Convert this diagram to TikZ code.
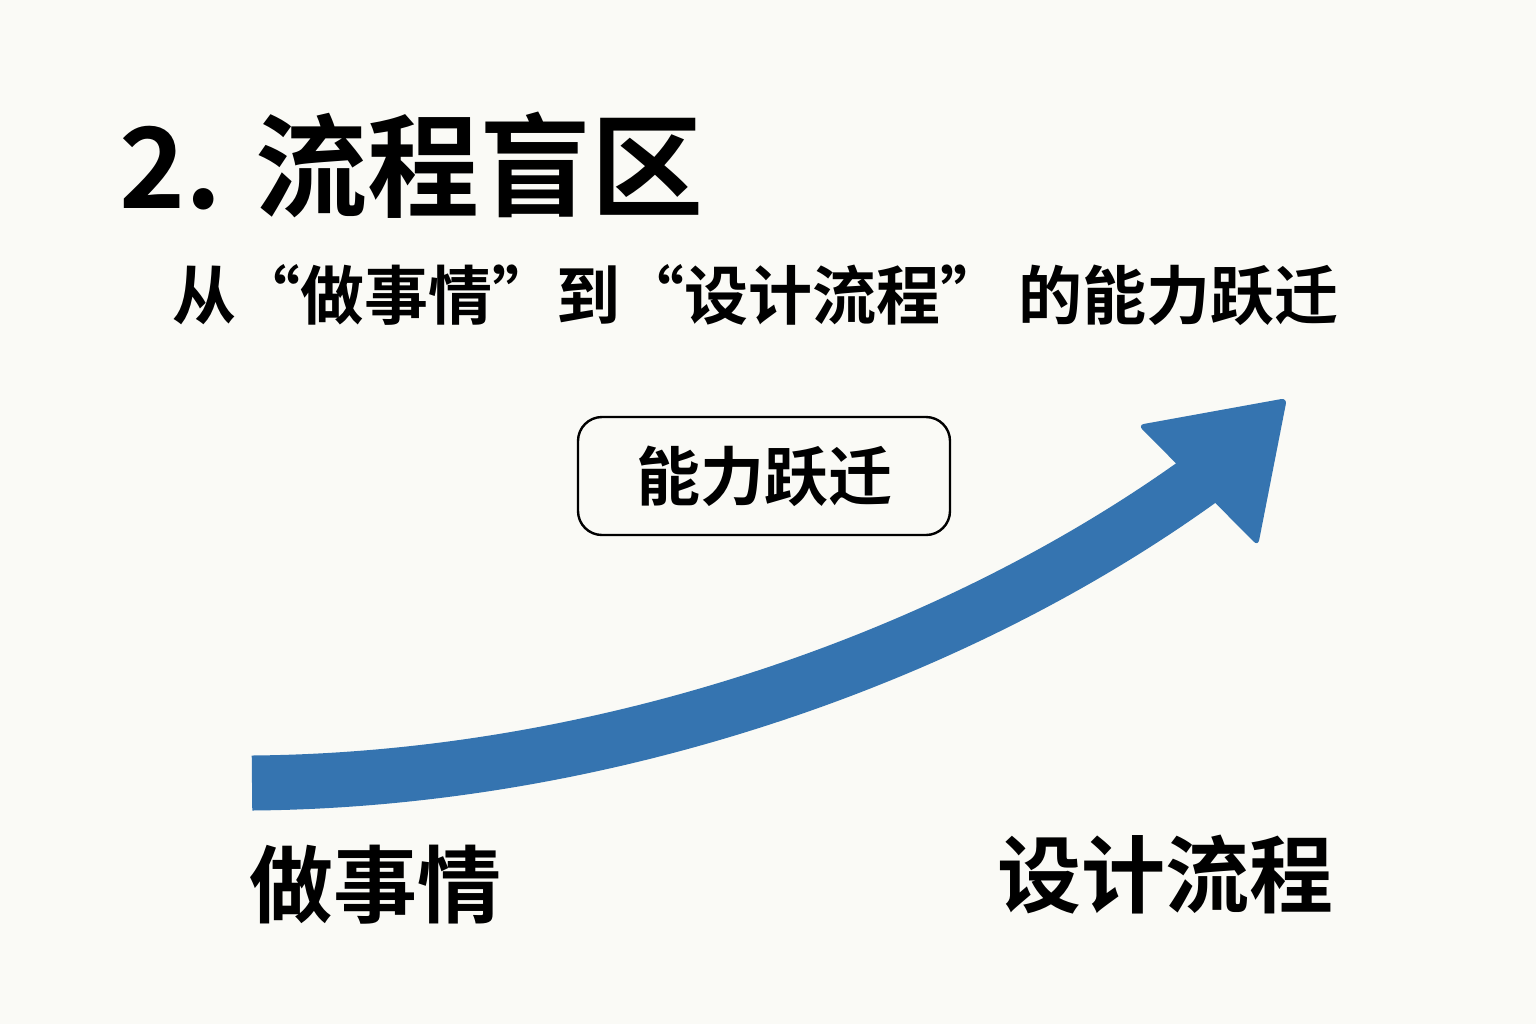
\documentclass[tikz,border=0pt]{standalone}
\usepackage{fontspec}
\newfontfamily\cjk{Noto Sans CJK SC}[BoldFont={* Bold}]
\definecolor{paper}{HTML}{FAFAF6}
\definecolor{leapblue}{HTML}{3574B0}
\tikzset{
  title/.style={anchor=west, font=\cjk\bfseries\fontsize{56}{60}\selectfont},
  subtitle/.style={anchor=west, font=\cjk\bfseries\fontsize{32}{36}\selectfont},
  stage/.style={font=\cjk\bfseries\fontsize{42}{46}\selectfont},
  leapbox/.style={draw, line width=1.2pt, rounded corners=12pt, minimum width=186pt,
    minimum height=59pt, font=\cjk\bfseries\fontsize{32}{36}\selectfont}
}
\begin{document}
\begin{tikzpicture}[x=0.5pt, y=-0.5pt]
% background
\fill[paper] (0,0) rectangle (1536,1024);
\useasboundingbox (0,0) rectangle (1536,1024);

% titles
\node[title] (heading) at (112,165) {2. 流程盲区};
\node[subtitle] (subheading) at (165,295) {从“做事情”到“设计流程” 的能力跃迁};

% label box
\node[leapbox] (leap) at (764,476) {能力跃迁};

% arrow
\coordinate (start) at (252,783);
\coordinate (neck) at (1200,480);
\draw[leapblue, line width=27.5pt] (start) .. controls (600,780) and (950,660) .. (neck);
\fill[leapblue, rounded corners=3pt] (1138,425) -- (1287,398) -- (1258,546) -- cycle;

% stage labels
\node[stage] (doing) at (375,885) {做事情};
\node[stage] (design) at (1165,875) {设计流程};
\end{tikzpicture}
\end{document}
